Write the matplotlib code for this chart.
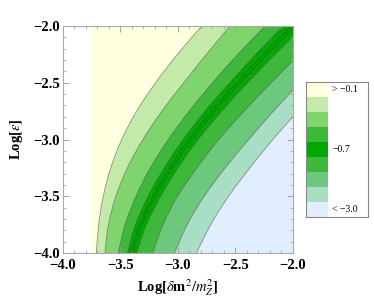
import matplotlib
matplotlib.use("Agg")
import matplotlib.pyplot as plt
from matplotlib.path import Path
from matplotlib.patches import PathPatch
import numpy as np

plt.rcParams['font.family'] = ['Liberation Serif', 'DejaVu Serif']
plt.rcParams['mathtext.fontset'] = 'stix'

# y sample levels (Log[eps])
yLevels = [-4.0, -3.75, -3.5, -3.25, -3.0, -2.75, -2.5, -2.25, -2.0]

# x position (Log[dm^2/mZ^2]) of each contour boundary at the y levels
xYellowStart = -3.76
bYellowLg = [-3.71, -3.69, -3.65, -3.585, -3.49, -3.36, -3.195, -3.005, -2.794]
bLgG2 = [-3.635, -3.605, -3.54, -3.44, -3.305, -3.14, -2.95, -2.753, -2.548]
bG2G3 = [-3.52, -3.46, -3.365, -3.24, -3.085, -2.903, -2.70, -2.48, -2.243]
bG3Dark = [-3.44, -3.37, -3.26, -3.12, -2.955, -2.765, -2.55, -2.323, -2.084]
bDarkG3 = [-3.36, -3.275, -3.15, -3.0, -2.825, -2.62, -2.395, -2.155, -1.905]
bG3G2 = [-3.22, -3.13, -3.005, -2.835, -2.645, -2.425, -2.19, -1.945, -1.695]
bG2Mint = [-3.03, -2.92, -2.772, -2.59, -2.385, -2.17, -1.94, -1.70, -1.45]
bMintBlue = [-2.84, -2.715, -2.56, -2.375, -2.175, -1.955, -1.725, -1.485, -1.235]

boundaries = [bYellowLg, bLgG2, bG2G3, bG3Dark, bDarkG3, bG3G2, bG2Mint, bMintBlue]
colors = ['#fffedf', '#c4eaa9', '#80d46e', '#3db83b', '#00a800',
          '#3db83b', '#6cc87c', '#a8dec4', '#e0eeff']
legendLabels = ['> \u22120.1', '', '', '', '\u22120.7', '', '', '', '< \u22123.0']


def smoothVerts(xs, ys):
    # cubic bezier segments through the read points (catmull-rom tangents)
    p = np.column_stack([xs, ys])
    n = len(p)
    verts = [p[0]]
    codes = [Path.MOVETO]
    for i in range(n - 1):
        p0 = p[i-1] if i > 0 else p[i]
        p3 = p[i+2] if i + 2 < n else p[i+1]
        c1 = p[i] + (p[i+1] - p0) / 6.0
        c2 = p[i+1] - (p3 - p[i]) / 6.0
        verts += [c1, c2, p[i+1]]
        codes += [Path.CURVE4] * 3
    return verts, codes


fig = plt.figure(figsize=(3.74, 3.06), dpi=100)
ax = fig.add_axes([63/374, 1-253/306, 230/374, 227/306])

y = np.array(yLevels)
ax.fill_betweenx(y, xYellowStart, 1.0, color=colors[0], lw=0)
for i, b in enumerate(boundaries):
    v, c = smoothVerts(b, yLevels)
    v = v + [(1.0, yLevels[-1]), (1.0, yLevels[0]), (0, 0)]
    c = c + [Path.LINETO, Path.LINETO, Path.CLOSEPOLY]
    ax.add_patch(PathPatch(Path(v, c), facecolor=colors[i+1], lw=0))
for b in boundaries:
    v, c = smoothVerts(b, yLevels)
    ax.add_patch(PathPatch(Path(v, c), fill=False, edgecolor='#555555', lw=0.6, alpha=0.6))
# thin lines inside the darkest band
g3d = np.array(bG3Dark)
dg3 = np.array(bDarkG3)
for f in [0.38, 0.58]:
    v, c = smoothVerts(g3d + f*(dg3-g3d), yLevels)
    ax.add_patch(PathPatch(Path(v, c), fill=False, edgecolor='#225522', lw=0.6, alpha=0.6))

ax.set_xlim(-4, -2)
ax.set_ylim(-4, -2)
ax.set_xticks([-4.0, -3.5, -3.0, -2.5, -2.0])
ax.set_yticks([-4.0, -3.5, -3.0, -2.5, -2.0])
ax.set_xticks(np.arange(-4, -1.99, 0.1), minor=True)
ax.set_yticks(np.arange(-4, -1.99, 0.1), minor=True)
ax.set_xticklabels(['\u22124.0', '\u22123.5', '\u22123.0', '\u22122.5', '\u22122.0'],
                   fontweight='bold', fontsize=10.5)
ax.set_yticklabels(['\u22124.0', '\u22123.5', '\u22123.0', '\u22122.5', '\u22122.0'],
                   fontweight='bold', fontsize=10.5)
ax.tick_params(which='both', direction='in', top=True, right=True, color='#999999')
ax.tick_params(axis='x', pad=4)
ax.tick_params(axis='y', pad=2)
ax.tick_params(which='major', length=4, width=0.6)
ax.tick_params(which='minor', length=2, width=0.5)
for s in ax.spines.values():
    s.set_color('#aaaaaa')
    s.set_linewidth(0.8)
ax.set_xlabel(r'Log[$\delta$m$^2$/$m_Z^2$]', fontweight='bold', fontsize=10.5, labelpad=4)
ax.set_ylabel(r'Log[$\epsilon$]', fontweight='bold', fontsize=10.5, labelpad=6)

# legend box
lax = fig.add_axes([306/374, 1-217/306, 62/374, 135/306])
lax.set_xlim(0, 1)
lax.set_ylim(0, 9)
for i, c in enumerate(colors):
    lax.add_patch(plt.Rectangle((0.02, 8-i), 0.34, 1, color=c, lw=0))
    if legendLabels[i]:
        lax.text(0.42, 8.5-i, legendLabels[i], fontsize=7, va='center', ha='left')
lax.set_xticks([])
lax.set_yticks([])
for s in lax.spines.values():
    s.set_color('#888888')
    s.set_linewidth(0.8)

fig.savefig('out.png', dpi=100)
